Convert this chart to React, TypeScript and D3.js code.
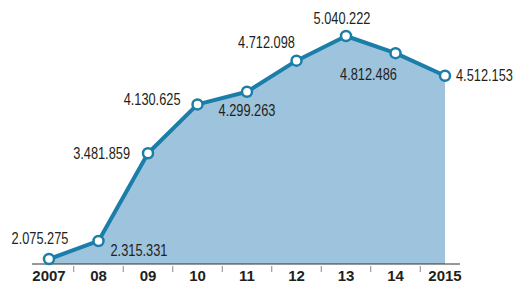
import React from "react";
import * as d3 from "d3";

const years = ["2007", "08", "09", "10", "11", "12", "13", "14", "2015"];
const values = [2075275, 2315331, 3481859, 4130625, 4299263, 4712098, 5040222, 4812486, 4512153];
const valueLabels = ["2.075.275", "2.315.331", "3.481.859", "4.130.625", "4.299.263", "4.712.098", "5.040.222", "4.812.486", "4.512.153"];
// label placement relative to point: [dx, dy, anchor]
const labelPos: [number, number, string][] = [
  [-9, -21, "middle"],
  [12, 9, "start"],
  [-18, 0, "end"],
  [-17, -5, "end"],
  [0, 19, "middle"],
  [-30, -18, "middle"],
  [-4, -18, "middle"],
  [-27, 21, "middle"],
  [11, 0, "start"],
];

export default function App() {
  const W = 515, H = 284;
  const x = d3.scalePoint<string>().domain(years).range([49, 445]);
  const y = d3.scaleLinear().domain([2000000, 5100000]).range([264.7, 31.5]);
  const axisY = 264;
  const data = years.map((yr, i) => ({ yr, v: values[i] }));
  const area = d3.area<{ yr: string; v: number }>()
    .x(d => x(d.yr)!)
    .y0(axisY)
    .y1(d => y(d.v));
  const line = d3.line<{ yr: string; v: number }>()
    .x(d => x(d.yr)!)
    .y(d => y(d.v));
  const step = x.step();
  const font = "'Liberation Sans', Arial, sans-serif";
  return (
    <svg width={W} height={H} style={{ position: "absolute", left: 0, top: 0, background: "#fff" }}>
      <path d={area(data)!} fill="#9dc3dd" />
      <line x1={32} x2={460} y1={axisY} y2={axisY} stroke="#333" strokeWidth={1.2} />
      {years.slice(0, -1).map((yr) => (
        <line key={yr} x1={x(yr)! + step / 2} x2={x(yr)! + step / 2} y1={axisY + 2} y2={axisY + 8} stroke="#888" strokeWidth={1} />
      ))}
      <path d={line(data)!} fill="none" stroke="#1b7ea8" strokeWidth={4} strokeLinejoin="round" />
      {data.map(d => (
        <circle key={d.yr} cx={x(d.yr)!} cy={y(d.v)} r={5} fill="#fff" stroke="#1b7ea8" strokeWidth={2.5} />
      ))}
      {data.map((d, i) => (
        <text key={"l" + d.yr}
          transform={`translate(${x(d.yr)! + labelPos[i][0]},${y(d.v) + labelPos[i][1]}) scale(0.8,1)`}
          dy="0.35em"
          textAnchor={labelPos[i][2] as any} fontFamily={font} fontSize={16} fill="#231f20">
          {valueLabels[i]}
        </text>
      ))}
      {years.map(yr => (
        <text key={"t" + yr} x={x(yr)!} y={281} textAnchor="middle" fontFamily={font} fontSize={15}
          fontWeight="bold" fill="#231f20">
          {yr}
        </text>
      ))}
    </svg>
  );
}
